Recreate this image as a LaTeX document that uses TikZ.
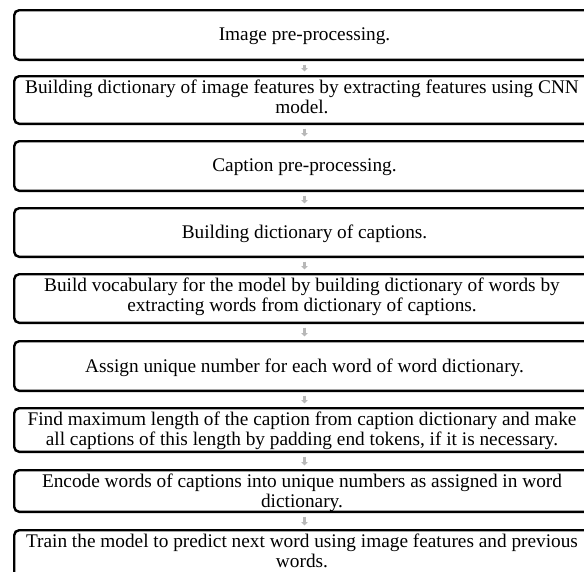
\documentclass[tikz,border=0pt]{standalone}
\usepackage{fontspec}
\setmainfont{Liberation Serif}
\usetikzlibrary{arrows.meta}
\tikzset{
  box/.style={draw=black, line width=2.4pt, rounded corners=5pt, fill=white,
    minimum width=580.6pt, inner sep=0pt},
  txt/.style={inner sep=0pt, align=center, font=\fontsize{19.3}{20}\selectfont},
  flowarrow/.style={draw=black!28, line width=3pt, shorten <=3.5pt, shorten >=3.5pt,
    -{Triangle[width=6.5pt,length=3.5pt]}},
}
\begin{document}
\begin{tikzpicture}[x=1pt,y=-1pt]
\useasboundingbox (0,0) rectangle (584,571);
\clip (0,0) rectangle (584,571);
\fill[white] (0,0) rectangle (584,571);
% boxes
\node[box, minimum height=49.6pt] (b1) at (304.5,35) {};
\node[box, minimum height=47.6pt] (b2) at (304.5,100) {};
\node[box, minimum height=49.6pt] (b3) at (304.5,166) {};
\node[box, minimum height=48.6pt] (b4) at (304.5,232.5) {};
\node[box, minimum height=48.6pt] (b5) at (304.5,298.5) {};
\node[box, minimum height=49.6pt] (b6) at (304.5,366) {};
\node[box, minimum height=43.6pt] (b7) at (304.5,430) {};
\node[box, minimum height=41.6pt] (b8) at (304.5,491) {};
\node[box, minimum height=58.6pt] (b9) at (304.5,559.5) {};
% texts
\node[txt] (t1) at ([yshift=-1.5pt]b1.center) {Image pre-processing.};
\node[txt, anchor=north] (t2) at (302,80) {Building dictionary of image features by extracting features using CNN\\model.};
\node[txt] (t3) at ([yshift=-1.5pt]b3.center) {Caption pre-processing.};
\node[txt] (t4) at ([yshift=-1.5pt]b4.center) {Building dictionary of captions.};
\node[txt, anchor=north] (t5) at (302,278) {Build vocabulary for the model by building dictionary of words by\\extracting words from dictionary of captions.};
\node[txt] (t6) at ([yshift=-1.5pt]b6.center) {Assign unique number for each word of word dictionary.};
\node[txt, anchor=north] (t7) at (302,412) {Find maximum length of the caption from caption dictionary and make\\all captions of this length by padding end tokens, if it is necessary.};
\node[txt, anchor=north] (t8) at (302,474) {Encode words of captions into unique numbers as assigned in word\\dictionary.};
\node[txt, anchor=north] (t9) at (302,534) {Train the model to predict next word using image features and previous\\words.};
% connectors
\draw[flowarrow] (b1.south) -- (b2.north);
\draw[flowarrow] (b2.south) -- (b3.north);
\draw[flowarrow] (b3.south) -- (b4.north);
\draw[flowarrow] (b4.south) -- (b5.north);
\draw[flowarrow] (b5.south) -- (b6.north);
\draw[flowarrow] (b6.south) -- (b7.north);
\draw[flowarrow] (b7.south) -- (b8.north);
\draw[flowarrow] (b8.south) -- (b9.north);
\end{tikzpicture}
\end{document}
